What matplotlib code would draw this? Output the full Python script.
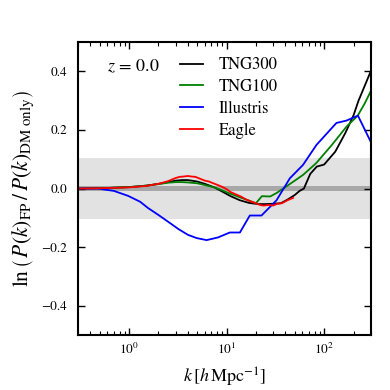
import matplotlib
matplotlib.use("Agg")
import matplotlib.pyplot as plt

# values (k in h/Mpc, y = ln ratio)
K_TNG300 = [0.3, 0.5, 1.0, 1.5, 2.0, 2.5, 3.0, 3.5, 4.0, 5.0, 6.0, 7.5, 9.0, 11.0, 13.7, 17.0,
            21.0, 25.0, 30.0, 36.0, 42.0, 50.0, 56.0, 62.0, 72.0, 84.0, 100.0, 130.0, 165.0,
            200.0, 225.0, 260.0, 300.0]
Y_TNG300 = [0.0, 0.001, 0.005, 0.01, 0.016, 0.022, 0.027, 0.029, 0.029, 0.024, 0.016, 0.004,
            -0.01, -0.026, -0.04, -0.049, -0.053, -0.053, -0.052, -0.05, -0.038, -0.022,
            -0.008, 0.0, 0.05, 0.075, 0.082, 0.126, 0.19, 0.25, 0.30, 0.35, 0.40]

K_TNG100 = [0.3, 0.5, 1.0, 1.5, 2.0, 2.5, 3.0, 3.5, 4.0, 5.0, 6.0, 7.5, 9.0, 11.0, 13.7, 17.3,
            20.0, 23.0, 28.0, 33.0, 40.0, 50.0, 61.0, 83.0, 120.0, 170.0, 220.0, 260.0, 300.0]
Y_TNG100 = [0.0, 0.001, 0.005, 0.01, 0.015, 0.02, 0.022, 0.022, 0.021, 0.018, 0.012, 0.004,
            -0.006, -0.018, -0.03, -0.042, -0.05, -0.026, -0.027, -0.014, 0.005, 0.027,
            0.047, 0.087, 0.149, 0.212, 0.248, 0.29, 0.332]

K_ILLUSTRIS = [0.3, 0.48, 0.7, 0.98, 1.3, 1.56, 2.0, 2.51, 3.2, 4.02, 4.93, 6.24, 8.14,
               10.8, 13.7, 17.3, 22.8, 32.5, 44.5, 60.8, 83.4, 133.6, 169.0, 222.0, 300.0]
Y_ILLUSTRIS = [0.0, 0.0, -0.008, -0.025, -0.045, -0.066, -0.09, -0.113, -0.138, -0.158,
               -0.169, -0.176, -0.167, -0.15, -0.15, -0.092, -0.092, -0.04, 0.035, 0.081,
               0.149, 0.224, 0.232, 0.249, 0.16]

K_EAGLE = [0.3, 0.5, 1.0, 1.5, 2.0, 2.5, 3.0, 3.3, 3.6, 4.0, 4.4, 4.8, 5.3, 6.0, 6.6, 7.3,
           8.0, 9.0, 10.0, 11.0, 12.5, 14.0, 16.0, 18.0, 20.0, 22.0, 24.0, 27.0, 30.0, 33.0,
           37.0, 42.0, 48.0]
Y_EAGLE = [0.0, 0.001, 0.004, 0.009, 0.016, 0.025, 0.036, 0.04, 0.041, 0.043, 0.041, 0.04,
           0.034, 0.027, 0.024, 0.018, 0.013, 0.006, -0.002, -0.012, -0.02, -0.027, -0.038,
           -0.045, -0.05, -0.056, -0.058, -0.056, -0.058, -0.052, -0.05, -0.04, -0.032]

SERIES = [
    ("TNG300", K_TNG300, Y_TNG300, "black"),
    ("TNG100", K_TNG100, Y_TNG100, "green"),
    ("Illustris", K_ILLUSTRIS, Y_ILLUSTRIS, "blue"),
    ("Eagle", K_EAGLE, Y_EAGLE, "red"),
]

plt.rcParams["font.family"] = "STIXGeneral"
plt.rcParams["mathtext.fontset"] = "stix"

fig = plt.figure(figsize=(3.9, 3.9), dpi=100)
ax = fig.add_axes([0.2, 0.141, 0.7505, 0.751])

ax.axhspan(-0.105, 0.105, color="#e2e2e2", lw=0, zorder=0)
ax.axhspan(-0.01, 0.01, color="#a8a8a8", lw=0, zorder=0)

for name, k, y, c in SERIES:
    ax.plot(k, y, color=c, lw=1.3, label=name)

ax.set_xscale("log")
ax.set_xlim(0.3, 300)
ax.set_ylim(-0.5, 0.5)
ax.set_yticks([-0.4, -0.2, 0.0, 0.2, 0.4])
ax.tick_params(which="both", direction="in", top=True, right=True, labelsize=9.5)
ax.tick_params(axis="y", pad=8)
ax.tick_params(axis="x", pad=5)
ax.tick_params(which="major", length=5, width=1)
ax.tick_params(which="minor", length=3, width=0.8)
for s in ax.spines.values():
    s.set_linewidth(1.5)

ax.set_xlabel(r"$k\,[h\,\mathrm{Mpc}^{-1}]$", fontsize=13, labelpad=6)
ax.set_ylabel(r"$\ln\left(\,P(k)_{\mathrm{FP}}\,/\,P(k)_{\mathrm{DM\ only}}\right)$",
              fontsize=15.5, labelpad=3)
ax.text(0.098, 0.916, r"$z\,=\,0.0$", transform=ax.transAxes, fontsize=13, va="center")

ax.legend(loc="upper left", bbox_to_anchor=(0.296, 0.999), frameon=False, fontsize=12,
          handlelength=1.42, handletextpad=0.92, labelspacing=0.35)

fig.savefig("out.png", dpi=100)
